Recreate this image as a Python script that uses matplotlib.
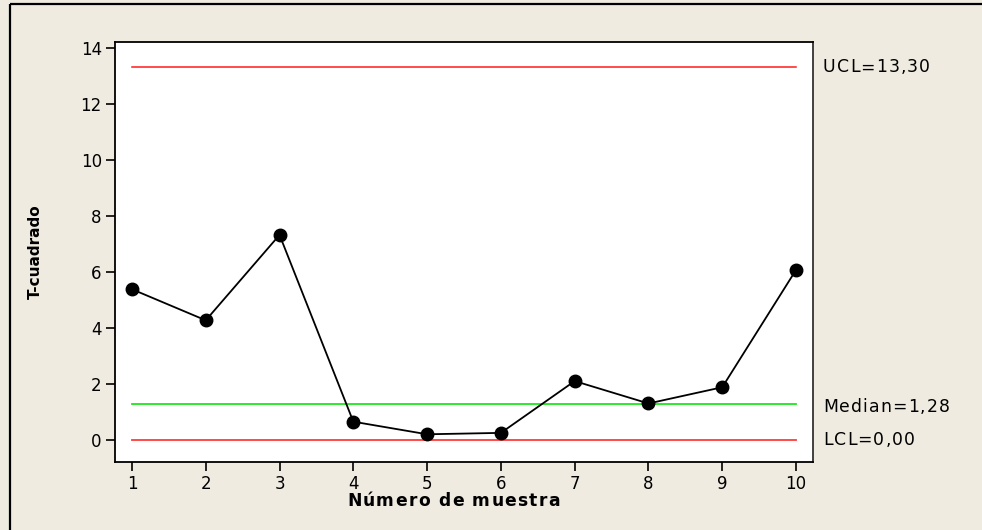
import matplotlib.pyplot as plt
from matplotlib.lines import Line2D
from matplotlib.transforms import ScaledTranslation
from matplotlib.font_manager import FontProperties, findfont, get_font

# data
muestra = [1, 2, 3, 4, 5, 6, 7, 8, 9, 10]
t_cuadrado = [5.38, 4.27, 7.32, 0.65, 0.20, 0.25, 2.10, 1.30, 1.88, 6.07]
ucl = 13.30
median = 1.28
lcl = 0.00
x_ticks = [1, 2, 3, 4, 5, 6, 7, 8, 9, 10]
y_ticks = [0, 2, 4, 6, 8, 10, 12, 14]
limit_labels = ['UCL=13,30', 'Median=1,28', 'LCL=0,00']

bg = '#efebe1'
DPI = 100


def spaced_text(fig, x, y, s, transform, spacing=1.8, size=11.5, weight='normal', va='center'):
    # draw text char by char with extra letter spacing (Minitab style)
    prop = FontProperties(family='DejaVu Sans', size=size, weight=weight)
    font = get_font(findfont(prop))
    font.set_size(size, DPI)
    off = 0.0
    for ch in s:
        tr = transform + ScaledTranslation(off / DPI, 0, fig.dpi_scale_trans)
        fig.text(x, y, ch, transform=tr, fontproperties=prop, ha='left', va=va)
        off += font.load_char(ord(ch)).linearHoriAdvance / 65536 + spacing
    return off


fig = plt.figure(figsize=(9.82, 5.30), dpi=DPI, facecolor=bg)
ax = fig.add_axes([115 / 982, 68 / 530, 698 / 982, 420 / 530])
ax.set_facecolor('white')

# control limits and center line
ax.plot([muestra[0], muestra[-1]], [ucl, ucl], color='#ff1a1a', lw=1.1)
ax.plot([muestra[0], muestra[-1]], [lcl, lcl], color='#ff3b3b', lw=1.3)
ax.plot([muestra[0], muestra[-1]], [median, median], color='#1ee61e', lw=1.3)

ax.plot(muestra, t_cuadrado, color='black', lw=1.3, marker='o',
        markersize=9, markerfacecolor='black', markeredgecolor='black', zorder=3)

ax.set_xlim(0.77, 10.23)
ax.set_ylim(-0.79, 14.21)
ax.set_xticks(x_ticks)
ax.set_yticks(y_ticks)
ax.tick_params(axis='both', direction='out', length=6.5, width=1.2,
               labelsize=12, colors='black', pad=3)

for s in ax.spines.values():
    s.set_linewidth(1.3)
    s.set_color('black')
ax.spines['right'].set_color('#333333')

ax.set_ylabel('T-cuadrado', fontsize=11, fontweight='bold', labelpad=27)

# x label, letter spaced, starts at ~347 px
spaced_text(fig, 347 / 982, 1 - 501 / 530, 'Número de muestra', fig.transFigure,
            spacing=1.3, size=12.3, weight='bold')

# limit labels on the right
tx = 1.0 + 10 / 698
ytr = ax.get_yaxis_transform()
for lab, val in zip(limit_labels, [ucl, median - 0.1, lcl]):
    spaced_text(fig, tx, val, lab, ytr, spacing=1.1, size=12.4)

# outer frame (top and left edges only)
fig.add_artist(Line2D([10 / 982, 1.0], [1 - 4 / 530, 1 - 4 / 530],
                      transform=fig.transFigure, color='black', lw=1.6,
                      solid_capstyle='butt'))
fig.add_artist(Line2D([10 / 982, 10 / 982], [0.0, 1 - 4 / 530],
                      transform=fig.transFigure, color='black', lw=1.6,
                      solid_capstyle='butt'))

fig.savefig('out.png', dpi=DPI, facecolor=bg)
